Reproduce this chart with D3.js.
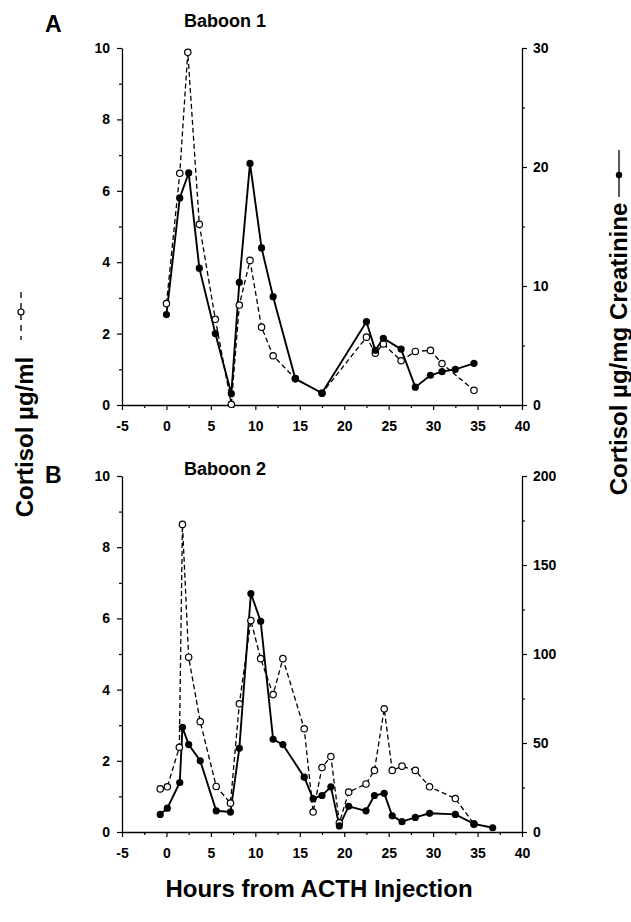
<!DOCTYPE html>
<html><head><meta charset="utf-8">
<script src="https://cdn.jsdelivr.net/npm/d3@7"></script>
<style>
body{margin:0;background:#fff;}
svg{display:block;}
text{font-family:"Liberation Sans",Arial,Helvetica,sans-serif;font-weight:bold;fill:#000;}
</style></head>
<body>
<script>
// ---- data ----
const xTicks = [-5, 0, 5, 10, 15, 20, 25, 30, 35, 40];
const leftTicks = [0, 2, 4, 6, 8, 10];
const rightTicksA = [0, 10, 20, 30];
const rightTicksB = [0, 50, 100, 150, 200];

// Baboon 1 — plasma cortisol (µg/ml, open circles, left axis)
const hoursA_plasma = [0, 1.5, 2.4, 3.7, 5.5, 7.3, 8.2, 9.4, 10.7, 12.0, 14.5, 17.5, 22.5, 23.5, 24.4, 26.4, 28.0, 29.7, 31.0, 34.6];
const plasmaA = [2.84, 6.49, 9.88, 5.06, 2.4, 0.02, 2.8, 4.05, 2.18, 1.38, 0.74, 0.33, 1.9, 1.45, 1.71, 1.24, 1.5, 1.53, 1.16, 0.41];
// Baboon 1 — urinary cortisol (µg/mg creatinine, filled circles, right axis)
const hoursA_urine = [0, 1.5, 2.5, 3.7, 5.5, 7.3, 8.2, 9.4, 10.7, 12.0, 14.5, 17.5, 22.5, 23.5, 24.4, 26.4, 28.0, 29.7, 31.0, 32.5, 34.6];
const urineA = [7.6, 17.4, 19.5, 11.5, 6.0, 0.95, 10.3, 20.3, 13.2, 9.1, 2.2, 1.0, 7.0, 4.6, 5.6, 4.7, 1.5, 2.5, 2.8, 3.0, 3.5];

// Baboon 2
const hoursB_plasma = [-0.7, 0.1, 1.45, 1.8, 2.5, 3.8, 5.6, 7.2, 8.2, 9.5, 10.6, 12.0, 13.1, 15.5, 16.5, 17.5, 18.5, 19.45, 20.5, 22.45, 23.4, 24.5, 25.4, 26.5, 28.0, 29.6, 32.5, 34.6];
const plasmaB = [1.21, 1.27, 2.38, 8.64, 4.91, 3.1, 1.28, 0.81, 3.6, 5.94, 4.87, 3.86, 4.87, 2.9, 0.56, 1.81, 2.12, 0.26, 1.12, 1.35, 1.73, 3.46, 1.73, 1.85, 1.73, 1.27, 0.94, 0.22];
const hoursB_urine = [-0.7, 0.1, 1.5, 1.8, 2.5, 3.8, 5.6, 7.2, 8.2, 9.5, 10.6, 12.0, 13.1, 15.5, 16.5, 17.5, 18.5, 19.45, 20.5, 22.45, 23.4, 24.5, 25.4, 26.5, 28.0, 29.6, 32.5, 34.6, 36.7];
const urineB = [9.9, 13.4, 27.8, 58.8, 49.1, 40, 11.9, 11.2, 47, 134, 118.4, 52.1, 49.1, 30.8, 18.7, 20.5, 25.4, 3.4, 14.4, 11.9, 20.5, 21.7, 9.1, 5.8, 8.2, 10.5, 9.9, 4.6, 2.4];

// ---- drawing ----
const W = 631, H = 922;
const svg = d3.select("body").append("svg").attr("width", W).attr("height", H);
const x = d3.scaleLinear().domain([-5, 40]).range([122, 522]);
const fmt = d => String(d);

function panel(cfg) {
  const yL = d3.scaleLinear().domain([0, 10]).range([cfg.bottom, cfg.top]);
  const yR = d3.scaleLinear().domain([0, cfg.rightMax]).range([cfg.bottom, cfg.top]);
  const g = svg.append("g");

  // x axis
  const xMinor = d3.range(-5, 40.01, 2.5).filter(v => v % 5 !== 0);
  g.append("g").attr("transform", `translate(0,${cfg.bottom})`)
    .call(d3.axisBottom(x).tickValues(xMinor).tickSize(3).tickSizeOuter(0).tickFormat(""))
    .call(a => a.select(".domain").remove());
  g.append("g").attr("transform", `translate(0,${cfg.bottom})`)
    .call(d3.axisBottom(x).tickValues(xTicks).tickSize(5).tickSizeOuter(0).tickPadding(11).tickFormat(fmt))
    .call(a => a.selectAll("text").attr("font-size", 14));

  // left axis
  g.append("g").attr("transform", `translate(${x(-5)},0)`)
    .call(d3.axisLeft(yL).tickValues([1, 3, 5, 7, 9]).tickSize(3).tickSizeOuter(0).tickFormat(""))
    .call(a => a.select(".domain").remove());
  g.append("g").attr("transform", `translate(${x(-5)},0)`)
    .call(d3.axisLeft(yL).tickValues(leftTicks).tickSize(5).tickSizeOuter(0).tickPadding(7).tickFormat(fmt))
    .call(a => a.selectAll("text").attr("font-size", 14));

  // right axis
  g.append("g").attr("transform", `translate(${x(40)},0)`)
    .call(d3.axisRight(yR).tickValues(cfg.rightMinor).tickSize(3).tickSizeOuter(0).tickFormat(""))
    .call(a => a.select(".domain").remove());
  g.append("g").attr("transform", `translate(${x(40)},0)`)
    .call(d3.axisRight(yR).tickValues(cfg.rightTicks).tickSize(5).tickSizeOuter(0).tickPadding(6).tickFormat(fmt))
    .call(a => a.selectAll("text").attr("font-size", 14));

  g.selectAll(".domain").attr("stroke-width", 1.3);
  g.selectAll(".tick line").attr("stroke-width", 1.2);

  // plasma series (dashed, open) and urinary series (solid, filled)
  const pData = cfg.hP.map((h, i) => [h, cfg.vP[i]]);
  const uData = cfg.hU.map((h, i) => [h, cfg.vU[i]]);
  g.append("path").datum(pData)
    .attr("d", d3.line().x(d => x(d[0])).y(d => yL(d[1])))
    .attr("fill", "none").attr("stroke", "#000").attr("stroke-width", 1.3).attr("stroke-dasharray", "5,3");
  g.append("path").datum(uData)
    .attr("d", d3.line().x(d => x(d[0])).y(d => yR(d[1])))
    .attr("fill", "none").attr("stroke", "#000").attr("stroke-width", 1.9);
  g.selectAll(".pp").data(pData).join("circle")
    .attr("cx", d => x(d[0])).attr("cy", d => yL(d[1])).attr("r", 3.2)
    .attr("fill", "#fff").attr("stroke", "#000").attr("stroke-width", 1.2);
  g.selectAll(".up").data(uData).join("circle")
    .attr("cx", d => x(d[0])).attr("cy", d => yR(d[1])).attr("r", 3.6)
    .attr("fill", "#000");

  // titles
  g.append("text").attr("x", 45).attr("y", cfg.letterY).attr("font-size", 23).text(cfg.letter);
  g.append("text").attr("x", 225).attr("y", cfg.titleY).attr("font-size", 18)
    .attr("text-anchor", "middle").text(cfg.title);
}

panel({top: 48, bottom: 405, rightMax: 30, rightTicks: rightTicksA, rightMinor: [5, 15, 25],
  hP: hoursA_plasma, vP: plasmaA, hU: hoursA_urine, vU: urineA,
  letter: "A", letterY: 32, title: "Baboon 1", titleY: 27});
panel({top: 476, bottom: 832, rightMax: 200, rightTicks: rightTicksB, rightMinor: [25, 75, 125, 175],
  hP: hoursB_plasma, vP: plasmaB, hU: hoursB_urine, vU: urineB,
  letter: "B", letterY: 483, title: "Baboon 2", titleY: 475});

// axis titles
svg.append("text").attr("x", 319).attr("y", 897).attr("font-size", 24)
  .attr("text-anchor", "middle").text("Hours from ACTH Injection");
svg.append("text").attr("transform", "translate(33,437) rotate(-90)").attr("font-size", 24)
  .attr("text-anchor", "middle").text("Cortisol \u00b5g/ml");
svg.append("text").attr("transform", "translate(627,349) rotate(-90)").attr("font-size", 24)
  .attr("text-anchor", "middle").text("Cortisol \u00b5g/mg Creatinine");

// legends
svg.append("line").attr("x1", 21).attr("x2", 21).attr("y1", 292).attr("y2", 340)
  .attr("stroke", "#000").attr("stroke-width", 1.3).attr("stroke-dasharray", "6,5");
svg.append("circle").attr("cx", 21).attr("cy", 312).attr("r", 3)
  .attr("fill", "#fff").attr("stroke", "#000").attr("stroke-width", 1.2);
svg.append("line").attr("x1", 619).attr("x2", 619).attr("y1", 150).attr("y2", 197)
  .attr("stroke", "#000").attr("stroke-width", 1.3);
svg.append("circle").attr("cx", 619).attr("cy", 175).attr("r", 3.2).attr("fill", "#000");
</script>
</body></html>
